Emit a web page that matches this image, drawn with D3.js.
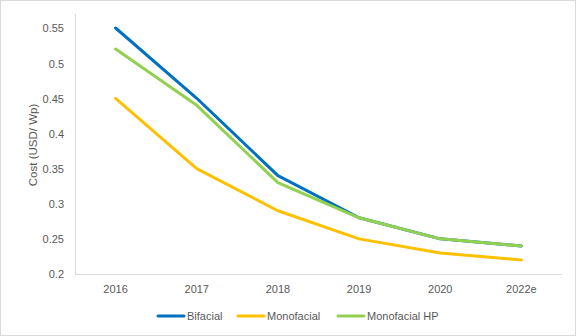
<!DOCTYPE html>
<html>
<head>
<meta charset="utf-8">
<script src="https://cdn.jsdelivr.net/npm/d3@7"></script>
<style>
  html, body { margin: 0; padding: 0; background: #fff; }
  svg { display: block; font-family: "Liberation Sans", "DejaVu Sans", sans-serif; }
</style>
</head>
<body>
<div id="chart"></div>
<script>
// Module cost by year and technology
const years = ["2016", "2017", "2018", "2019", "2020", "2022e"];
const bifacial = [0.55, 0.45, 0.34, 0.28, 0.25, 0.24];
const monofacial = [0.45, 0.35, 0.29, 0.25, 0.23, 0.22];
const monofacialHP = [0.52, 0.44, 0.33, 0.28, 0.25, 0.24];
const yTicks = [0.2, 0.25, 0.3, 0.35, 0.4, 0.45, 0.5, 0.55];
const yTickLabels = ["0.2", "0.25", "0.3", "0.35", "0.4", "0.45", "0.5", "0.55"];

const series = [
  { name: "Bifacial", values: bifacial, color: "#0070C0" },
  { name: "Monofacial", values: monofacial, color: "#FFC000" },
  { name: "Monofacial HP", values: monofacialHP, color: "#92D050" }
];

const W = 576, H = 336;
const plot = { left: 75, right: 562, top: 14, bottom: 274 };
const textColor = "#595959";
const axisColor = "#d9d9d9";

const svg = d3.select("#chart").append("svg")
  .attr("width", W).attr("height", H);

// outer frame
svg.append("rect")
  .attr("x", 0.5).attr("y", 0.5)
  .attr("width", W - 1).attr("height", H - 1)
  .attr("fill", "#fff").attr("stroke", axisColor);

const x = d3.scaleBand().domain(years).range([plot.left, plot.right]);
const y = d3.scaleLinear().domain([0.2, 0.55]).range([plot.bottom, 28]);

// y axis line
svg.append("line")
  .attr("x1", plot.left + 0.5).attr("x2", plot.left + 0.5)
  .attr("y1", plot.top).attr("y2", plot.bottom)
  .attr("stroke", axisColor);

// x axis line
svg.append("line")
  .attr("x1", plot.left).attr("x2", plot.right)
  .attr("y1", plot.bottom + 0.5).attr("y2", plot.bottom + 0.5)
  .attr("stroke", axisColor);

// y tick labels
const yAxis = d3.axisLeft(y).tickValues(yTicks)
  .tickFormat((d, i) => yTickLabels[i]).tickSize(0).tickPadding(0);
const gy = svg.append("g").attr("transform", `translate(${plot.left - 11},0)`).call(yAxis);
gy.select(".domain").remove();
gy.selectAll("text").attr("fill", textColor).style("font-size", "11px")
  .attr("dy", "0.35em");

// x tick labels
const xAxis = d3.axisBottom(x).tickSize(0).tickPadding(0);
const gx = svg.append("g").attr("transform", `translate(0,${plot.bottom + 11})`).call(xAxis);
gx.select(".domain").remove();
gx.selectAll("text").attr("fill", textColor).style("font-size", "11px")
  .attr("dy", "0.71em");

// y axis title
svg.append("text")
  .attr("transform", `translate(37,145) rotate(-90)`)
  .attr("text-anchor", "middle")
  .attr("fill", textColor)
  .style("font-size", "11.5px")
  .text("Cost (USD/ Wp)");

// lines
const line = d3.line()
  .x((d, i) => x(years[i]) + x.bandwidth() / 2)
  .y(d => y(d));

svg.selectAll("path.series")
  .data(series)
  .join("path")
  .attr("class", "series")
  .attr("d", d => line(d.values))
  .attr("fill", "none")
  .attr("stroke", d => d.color)
  .attr("stroke-width", 3)
  .attr("stroke-linejoin", "round")
  .attr("stroke-linecap", "round");

// legend
const legendX = [158, 238, 338];
const legendY = 316;
const lg = svg.append("g");
series.forEach((s, i) => {
  lg.append("line")
    .attr("x1", legendX[i]).attr("x2", legendX[i] + 26)
    .attr("y1", legendY).attr("y2", legendY)
    .attr("stroke", s.color).attr("stroke-width", 3)
    .attr("stroke-linecap", "round");
  lg.append("text")
    .attr("x", legendX[i] + 29).attr("y", legendY)
    .attr("dy", "0.35em")
    .attr("fill", textColor)
    .style("font-size", "11px")
    .text(s.name);
});
</script>
</body>
</html>
